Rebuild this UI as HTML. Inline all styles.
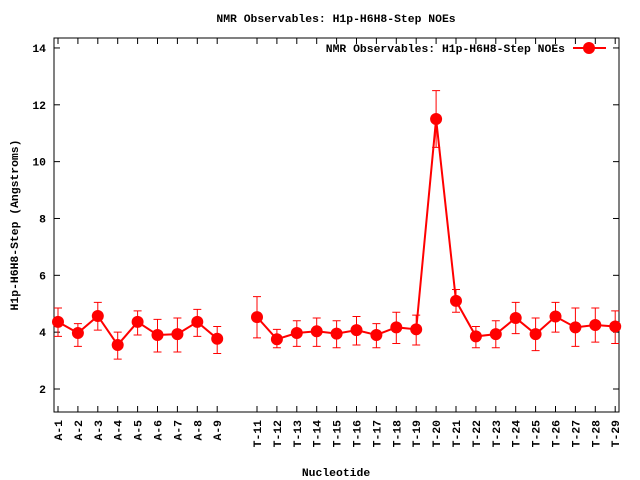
<!DOCTYPE html><html><head><style>body{margin:0;background:#fff}svg{display:block}text{font-family:"Liberation Mono",monospace;font-weight:bold;font-size:11.4px}</style></head><body>
<svg id="s" width="640" height="480" xmlns="http://www.w3.org/2000/svg"></svg>
<script>
const s=document.getElementById('s');let h='';
const L=54,R=619,T=38,B=412;
const Y=v=>389-(v-2)*28.42, X=n=>58+(n-1)*19.9;
h+=`<text x="336" y="22" text-anchor="middle">NMR Observables: H1p-H6H8-Step NOEs</text>`;
h+=`<rect x="${L}" y="${T}" width="${R-L}" height="${B-T}" fill="none" stroke="#000"/>`;
for(let v=2;v<=14;v+=2){const y=Y(v);h+=`<line x1="${L}" x2="${L+6}" y1="${y}" y2="${y}" stroke="#000"/><line x1="${R}" x2="${R-6}" y1="${y}" y2="${y}" stroke="#000"/><text x="${L-8}" y="${y+4}" text-anchor="end">${v}</text>`;}
const d=[[1,'A-1',4.36,4.85,3.85],[2,'A-2',3.97,4.3,3.5],[3,'A-3',4.57,5.05,4.07],[4,'A-4',3.55,4.0,3.05],[5,'A-5',4.36,4.75,3.9],[6,'A-6',3.9,4.45,3.3],[7,'A-7',3.93,4.5,3.3],[8,'A-8',4.36,4.8,3.85],[9,'A-9',3.77,4.2,3.25],
[11,'T-11',4.53,5.25,3.8],[12,'T-12',3.75,4.1,3.45],[13,'T-13',3.97,4.4,3.5],[14,'T-14',4.03,4.5,3.5],[15,'T-15',3.95,4.4,3.45],[16,'T-16',4.07,4.55,3.55],[17,'T-17',3.9,4.3,3.45],[18,'T-18',4.17,4.7,3.6],[19,'T-19',4.1,4.6,3.55],[20,'T-20',11.5,12.5,10.5],[21,'T-21',5.1,5.5,4.7],[22,'T-22',3.85,4.2,3.45],[23,'T-23',3.93,4.4,3.45],[24,'T-24',4.5,5.05,3.95],[25,'T-25',3.93,4.5,3.35],[26,'T-26',4.55,5.05,4.0],[27,'T-27',4.17,4.85,3.5],[28,'T-28',4.25,4.85,3.65],[29,'T-29',4.2,4.75,3.6]];
d.forEach(p=>{const x=X(p[0]);h+=`<line x1="${x}" x2="${x}" y1="${B}" y2="${B-6}" stroke="#000"/><line x1="${x}" x2="${x}" y1="${T}" y2="${T+6}" stroke="#000"/><text transform="translate(${x+4},${B+8}) rotate(-90)" text-anchor="end">${p[1]}</text>`;});
const seg=[d.slice(0,9),d.slice(9)];
seg.forEach(g=>{h+=`<polyline fill="none" stroke="#f00" stroke-width="2" points="${g.map(p=>X(p[0])+','+Y(p[2])).join(' ')}"/>`;});
d.forEach(p=>{const x=X(p[0]);h+=`<path d="M${x} ${Y(p[3])}V${Y(p[4])}M${x-4} ${Y(p[3])}h8M${x-4} ${Y(p[4])}h8" stroke="#f00" stroke-width="1"/><circle cx="${x}" cy="${Y(p[2])}" r="6" fill="#f00"/>`;});
h+=`<text x="565" y="52" text-anchor="end">NMR Observables: H1p-H6H8-Step NOEs</text><line x1="573" x2="606" y1="48" y2="48" stroke="#f00" stroke-width="2"/><circle cx="589" cy="48" r="6" fill="#f00"/>`;
h+=`<text transform="translate(18,225) rotate(-90)" text-anchor="middle">H1p-H6H8-Step (Angstroms)</text>`;
h+=`<text x="336" y="476" text-anchor="middle">Nucleotide</text>`;
s.innerHTML=h;
</script></body></html>
